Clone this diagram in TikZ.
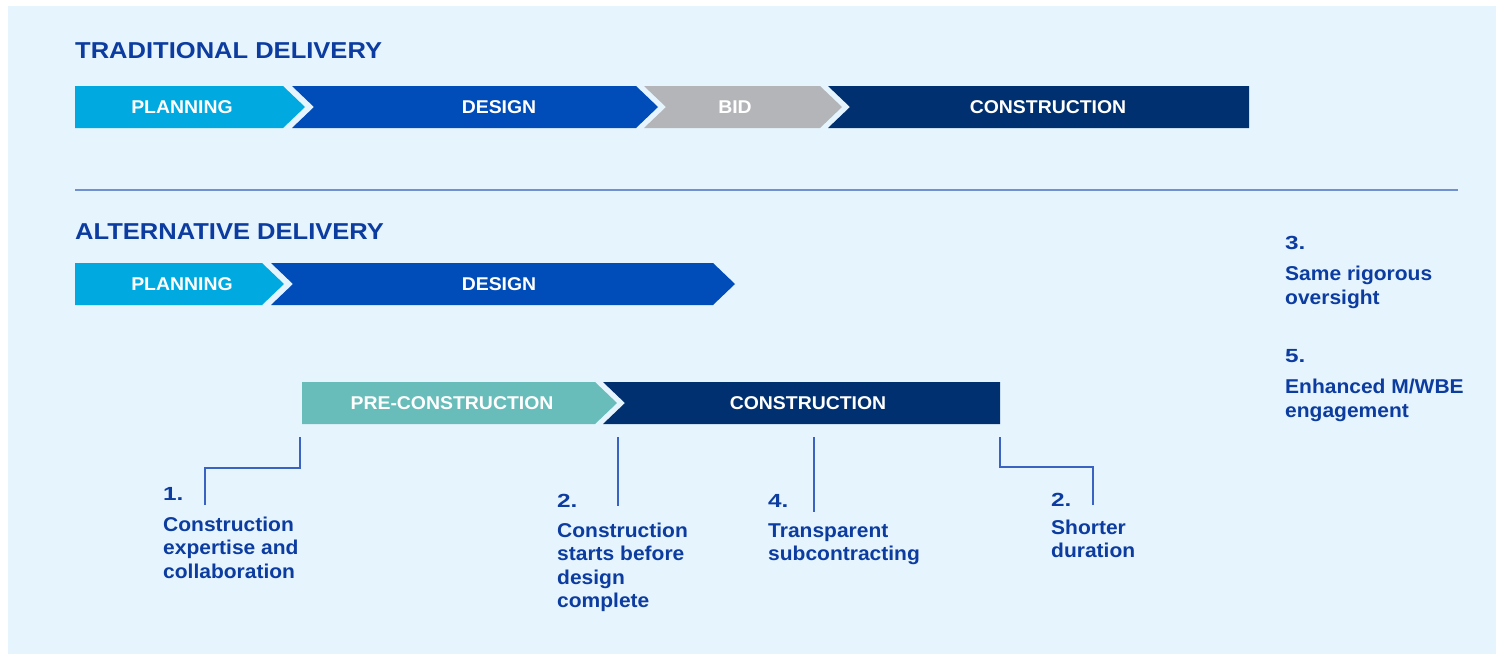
\documentclass[tikz,border=0pt]{standalone}
\usepackage{fontspec}
\setmainfont{Liberation Sans}
\newfontfamily\headfont[FakeStretch=1.11]{Liberation Sans}
\newfontfamily\barfont[FakeStretch=1.05]{Liberation Sans}
\newfontfamily\bodyfont[FakeStretch=1.05]{Liberation Sans}
\newfontfamily\numfont[FakeStretch=1.28]{Liberation Sans}

% stacked lines whose baseline is the first line's baseline
\newcommand\notelines[1]{\begin{tabular}[t]{@{}l@{}}#1\end{tabular}}

\definecolor{panel}{HTML}{E6F5FD}
\definecolor{ink}{HTML}{0C3C9F}
\definecolor{planc}{HTML}{00A9E0}
\definecolor{designc}{HTML}{004CB9}
\definecolor{bidc}{HTML}{B4B5B8}
\definecolor{buildc}{HTML}{00306F}
\definecolor{prec}{HTML}{68BCBA}
\definecolor{rulec}{HTML}{7090D0}
\definecolor{leadc}{HTML}{3A62C2}

\begin{document}
\begin{tikzpicture}[x=1pt,y=-1pt,
  heading/.style={anchor=base west, inner sep=0pt, text=ink,
    font=\headfont\bfseries\fontsize{23}{28}\selectfont},
  barlabel/.style={anchor=base, inner sep=0pt, text=white,
    font=\barfont\bfseries\fontsize{18.5}{22}\selectfont},
  note/.style={anchor=base west, inner sep=0pt, text=ink,
    font=\bodyfont\bfseries\fontsize{20}{23.5}\selectfont},
  num/.style={anchor=base west, inner sep=0pt, text=ink,
    font=\numfont\bfseries\fontsize{19}{23}\selectfont},
  leader/.style={draw=leadc, line width=1.4pt}]

\useasboundingbox (0,0) rectangle (1501,654);
\fill[white] (0,0) rectangle (1501,654);
\fill[panel] (8,6) rectangle (1496,654);

% ---- traditional delivery ----
\node[heading] (trad) at (75,58.5) {TRADITIONAL DELIVERY};

\fill[planc]   (75,86) -- (283,86) -- (305,107) -- (283,128) -- (75,128) -- cycle;
\fill[designc] (292,86) -- (636,86) -- (658,107) -- (636,128) -- (292,128) -- (314,107) -- cycle;
\fill[bidc]    (644,86) -- (820,86) -- (842,107) -- (820,128) -- (644,128) -- (666,107) -- cycle;
\fill[buildc]  (828,86) -- (1249,86) -- (1249,128) -- (828,128) -- (850,107) -- cycle;

\node[barlabel] (tplan)   at (182,113.6)  {PLANNING};
\node[barlabel] (tdesign) at (499,113.6)  {DESIGN};
\node[barlabel] (tbid)    at (735,113.6)  {BID};
\node[barlabel] (tbuild)  at (1048,113.6) {CONSTRUCTION};

% divider
\coordinate (ruleL) at (75,190);
\coordinate (ruleR) at (1458,190);
\draw[rulec, line width=1.2pt] (ruleL) -- (ruleR);

% ---- alternative delivery ----
\node[heading] (alt) at (75,239.5) {ALTERNATIVE DELIVERY};

\fill[planc]   (75,263) -- (262,263) -- (284,284) -- (262,305) -- (75,305) -- cycle;
\fill[designc] (271,263) -- (713,263) -- (735,284) -- (713,305) -- (271,305) -- (293,284) -- cycle;

\node[barlabel] (aplan)   at (182,290.6) {PLANNING};
\node[barlabel] (adesign) at (499,290.6) {DESIGN};

\fill[prec]   (302,382) -- (595,382) -- (617,403) -- (595,424) -- (302,424) -- cycle;
\fill[buildc] (603,382) -- (1000,382) -- (1000,424) -- (603,424) -- (625,403) -- cycle;

\node[barlabel] (apre)   at (452,409.6) {PRE-CONSTRUCTION};
\node[barlabel] (abuild) at (808,409.6) {CONSTRUCTION};

% ---- numbered notes ----
\node[num]  (n1)  at (163,500) {1.};
\node[note] (t1)  at (163,531) {\notelines{Construction\\expertise and\\collaboration}};

\node[num]  (n2)  at (557,507) {2.};
\node[note] (t2)  at (557,537) {\notelines{Construction\\starts before\\design\\complete}};

\node[num]  (n4)  at (768,507) {4.};
\node[note] (t4)  at (768,537) {\notelines{Transparent\\subcontracting}};

\node[num]  (n2b) at (1051,506) {2.};
\node[note] (t2b) at (1051,534) {\notelines{Shorter\\duration}};

\node[num]  (n3)  at (1285,249) {3.};
\node[note] (t3)  at (1285,280.5) {\notelines{Same rigorous\\oversight}};

\node[num]  (n5)  at (1285,362) {5.};
\node[note] (t5)  at (1285,393.5) {\notelines{Enhanced M/WBE\\engagement}};

% ---- leader lines from the bars to the notes ----
\coordinate (k1top) at (300,437);   \coordinate (k1end) at (205,505);
\coordinate (k2top) at (618,437);   \coordinate (k2end) at (618,506);
\coordinate (k4top) at (814,437);   \coordinate (k4end) at (814,512);
\coordinate (k5top) at (1000,437);  \coordinate (k5end) at (1093,505);

\draw[leader] (k1top) -- ++(0,31) -| (k1end);
\draw[leader] (k2top) -- (k2end);
\draw[leader] (k4top) -- (k4end);
\draw[leader] (k5top) -- ++(0,30) -| (k5end);

\end{tikzpicture}
\end{document}
